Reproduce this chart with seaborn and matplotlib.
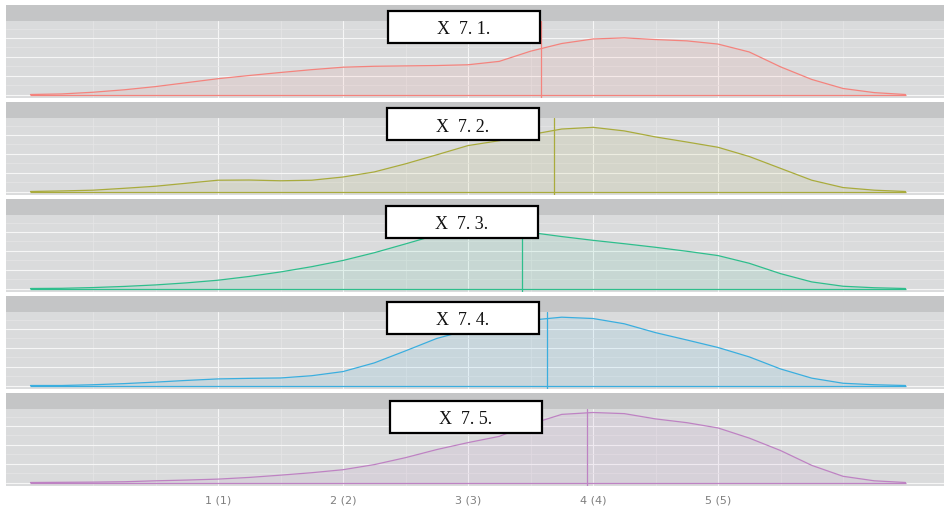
import matplotlib
matplotlib.use("Agg")
import matplotlib.pyplot as plt
from matplotlib.patches import Rectangle
import pandas as pd
import seaborn as sns

# Evaluation grid shared by all five density curves
grid_x = [-0.5, -0.25, 0, 0.25, 0.5, 0.75, 1, 1.25, 1.5, 1.75, 2, 2.25, 2.5, 2.75,
          3, 3.25, 3.5, 3.75, 4, 4.25, 4.5, 4.75, 5, 5.25, 5.5, 5.75, 6, 6.25, 6.5]

dens_1 = [0, 0.003, 0.012, 0.025, 0.042, 0.063, 0.084, 0.101, 0.117, 0.132, 0.145, 0.150,
          0.152, 0.154, 0.158, 0.176, 0.230, 0.271, 0.295, 0.301, 0.292, 0.285, 0.268,
          0.226, 0.147, 0.080, 0.032, 0.010, 0]
dens_2 = [0, 0.003, 0.007, 0.017, 0.028, 0.044, 0.060, 0.061, 0.057, 0.060, 0.077, 0.104,
          0.147, 0.195, 0.244, 0.270, 0.302, 0.332, 0.341, 0.322, 0.290, 0.263, 0.235,
          0.186, 0.123, 0.060, 0.021, 0.007, 0]
dens_3 = [0, 0.001, 0.005, 0.011, 0.019, 0.030, 0.044, 0.064, 0.088, 0.116, 0.149, 0.190,
          0.237, 0.285, 0.312, 0.312, 0.298, 0.276, 0.256, 0.238, 0.219, 0.198, 0.175,
          0.134, 0.079, 0.035, 0.012, 0.004, 0]
dens_4 = [0, 0, 0.004, 0.010, 0.018, 0.027, 0.035, 0.038, 0.040, 0.052, 0.074, 0.120,
          0.184, 0.250, 0.295, 0.325, 0.347, 0.363, 0.356, 0.328, 0.281, 0.242, 0.202,
          0.152, 0.088, 0.039, 0.012, 0.004, 0]
dens_5 = [0, 0.001, 0.002, 0.004, 0.009, 0.013, 0.018, 0.027, 0.039, 0.052, 0.068, 0.095,
          0.132, 0.175, 0.212, 0.245, 0.310, 0.362, 0.372, 0.366, 0.338, 0.318, 0.290,
          0.236, 0.170, 0.091, 0.033, 0.009, 0]

panel_labels = ["X  7. 1.", "X  7. 2.", "X  7. 3.", "X  7. 4.", "X  7. 5."]
means = [3.58, 3.69, 3.43, 3.63, 3.95]
tick_values = [1, 2, 3, 4, 5]
tick_labels = ["1 (1)", "2 (2)", "3 (3)", "4 (4)", "5 (5)"]

line_colors = ["#F4837D", "#A9AB3C", "#2EBE8C", "#3AAEDF", "#BE82C3"]

all_dens = [dens_1, dens_2, dens_3, dens_4, dens_5]
df = pd.concat(
    [pd.DataFrame({"x": grid_x, "density": d, "item": lab})
     for d, lab in zip(all_dens, panel_labels)],
    ignore_index=True,
)

sns.set_style("darkgrid")
plt.rcParams["font.family"] = ["DejaVu Sans"]

W, H = 944, 510
fig = plt.figure(figsize=(W / 100, H / 100), dpi=100)
fig.patch.set_facecolor("white")

panel_bg = "#DADBDC"
strip_bg = "#C4C5C6"
left_px, right_px = 6, 944
step = 97
box_left = [388, 387, 386, 387, 390]
box_top = [12, 109, 207, 303, 402]
box_w, box_h = 152, 32

x_lo, x_hi = -0.696, 6.808
peak = df["density"].max()
y_lo, y_hi = -0.05 * peak, 1.05 * peak

for i, lab in enumerate(panel_labels):
    top = 6 + step * i
    # strip header
    sax = fig.add_axes([left_px / W, 1 - (top + 16) / H, (right_px - left_px) / W, 16 / H])
    sax.set_facecolor(strip_bg)
    sax.set_xticks([]); sax.set_yticks([])
    for s in sax.spines.values():
        s.set_visible(False)

    # density panel
    ax = fig.add_axes([left_px / W, 1 - (top + 93) / H, (right_px - left_px) / W, 77 / H])
    ax.set_facecolor(panel_bg)
    sub = df[df["item"] == lab]
    col = line_colors[i]
    ax.fill_between(sub["x"], 0, sub["density"], color=col, alpha=0.11, lw=0, zorder=2)
    sns.lineplot(data=sub, x="x", y="density", ax=ax, color=col, lw=0.9,
                 sort=False, estimator=None, zorder=3)
    ax.hlines(0, sub["x"].min(), sub["x"].max(), color=col, lw=0.9, zorder=3)
    ax.axvline(means[i], color=col, lw=0.9, zorder=3)

    ax.set_xlim(x_lo, x_hi)
    ax.set_ylim(y_lo, y_hi)
    ax.set_xticks(tick_values)
    ax.set_xticks([0, 0.5, 1.5, 2.5, 3.5, 4.5, 5.5, 6], minor=True)
    ax.set_yticks([0, 0.1, 0.2, 0.3])
    ax.set_yticks([0.05, 0.15, 0.25, 0.35], minor=True)
    ax.grid(which="major", color="#F6F6F6", lw=0.8, zorder=0)
    ax.grid(which="minor", color="#E6E6E7", lw=0.5, zorder=0)
    ax.set_axisbelow(True)
    ax.set_xlabel(""); ax.set_ylabel("")
    ax.tick_params(axis="y", which="both", length=0, labelleft=False)
    ax.tick_params(axis="x", which="minor", length=0)
    if i == len(panel_labels) - 1:
        ax.set_xticklabels(tick_labels)
        ax.tick_params(axis="x", which="major", length=3, width=0.8, color="#8A8A8A",
                       labelsize=8, labelcolor="#7F7F7F", pad=3)
    else:
        ax.tick_params(axis="x", which="major", length=0, labelbottom=False)
    for s in ax.spines.values():
        s.set_visible(False)

    # label box over the strip
    bx, by = box_left[i], box_top[i]
    fig.add_artist(Rectangle((bx / W, 1 - (by + box_h) / H), box_w / W, box_h / H,
                             transform=fig.transFigure, facecolor="white",
                             edgecolor="black", lw=1.6, zorder=5))
    fig.text((bx + box_w / 2) / W, 1 - (by + box_h / 2 + 2) / H, lab,
             ha="center", va="center", fontsize=13, family="Liberation Serif",
             color="#111111", zorder=6)

fig.savefig("out.png", dpi=100, facecolor="white")
